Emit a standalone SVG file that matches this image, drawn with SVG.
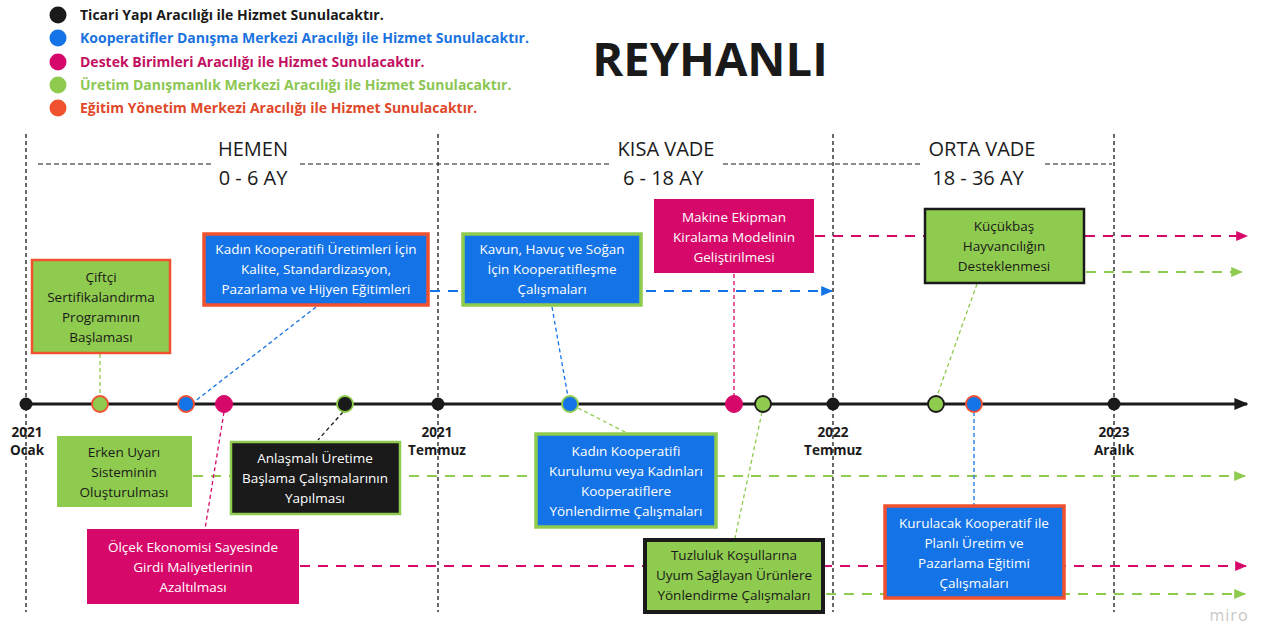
<svg xmlns="http://www.w3.org/2000/svg" width="1268" height="626" viewBox="0 0 1268 626">
<defs>
<style>
text{font-family:"Open Sans","Noto Sans","DejaVu Sans",sans-serif}
.leg{font-size:14px;font-weight:bold}
.hd{font-size:20px;fill:#1a1a1a;text-anchor:middle}
.yr{font-size:13.5px;font-weight:bold;fill:#1a1a1a;text-anchor:middle}
.bt{font-size:13.5px;text-anchor:middle}
.w{fill:#ffffff}
.d{fill:#1a1a1a}
.vl{stroke:#1a1a1a;stroke-width:1.3;stroke-dasharray:4 3;fill:none}
.hl{stroke:#1a1a1a;stroke-width:1.2;stroke-dasharray:5 3;fill:none}
.ar{stroke-width:2;stroke-dasharray:10 8;fill:none}
.dt{stroke-width:1.3;stroke-dasharray:4 3;fill:none}
</style>
<marker id="mB" viewBox="0 0 10 10" refX="9" refY="5" markerWidth="12" markerHeight="10" markerUnits="userSpaceOnUse" orient="auto" preserveAspectRatio="none"><path d="M0,0 L10,5 L0,10 z" fill="#1473e6"/></marker>
<marker id="mP" viewBox="0 0 10 10" refX="9" refY="5" markerWidth="12" markerHeight="10" markerUnits="userSpaceOnUse" orient="auto" preserveAspectRatio="none"><path d="M0,0 L10,5 L0,10 z" fill="#d6086a"/></marker>
<marker id="mG" viewBox="0 0 10 10" refX="9" refY="5" markerWidth="12" markerHeight="10" markerUnits="userSpaceOnUse" orient="auto" preserveAspectRatio="none"><path d="M0,0 L10,5 L0,10 z" fill="#8fcb4f"/></marker>
<marker id="mK" viewBox="0 0 10 10" refX="9" refY="5" markerWidth="14" markerHeight="12" markerUnits="userSpaceOnUse" orient="auto" preserveAspectRatio="none"><path d="M0,0 L10,5 L0,10 z" fill="#1a1a1a"/></marker>
</defs>
<rect width="1268" height="626" fill="#ffffff"/>

<g id="legend">
<circle cx="58" cy="15" r="8.5" fill="#1a1a1a"/>
<text class="leg" x="80" y="20" fill="#1a1a1a">Ticari Yapı Aracılığı ile Hizmet Sunulacaktır.</text>
<circle cx="58" cy="38" r="8.5" fill="#1473e6"/>
<text class="leg" x="80" y="43" fill="#1a73e0">Kooperatifler Danışma Merkezi Aracılığı ile Hizmet Sunulacaktır.</text>
<circle cx="58" cy="62" r="8.5" fill="#d6086a"/>
<text class="leg" x="80" y="67" fill="#c3105f">Destek Birimleri Aracılığı ile Hizmet Sunulacaktır.</text>
<circle cx="58" cy="85" r="8.5" fill="#8fcb4f"/>
<text class="leg" x="80" y="90" fill="#8cc653">Üretim Danışmanlık Merkezi Aracılığı ile Hizmet Sunulacaktır.</text>
<circle cx="58" cy="108" r="8.5" fill="#f0512e"/>
<text class="leg" x="80" y="113" fill="#e0482a">Eğitim Yönetim Merkezi Aracılığı ile Hizmet Sunulacaktır.</text>
</g>

<text id="title" x="710" y="76" font-size="47" font-weight="bold" text-anchor="middle" fill="#1a1a1a">REYHANLI</text>

<g id="periods">
<line class="vl" x1="26" y1="134" x2="26" y2="612"/>
<line class="vl" x1="438" y1="134" x2="438" y2="612"/>
<line class="vl" x1="833" y1="134" x2="833" y2="612"/>
<line class="vl" x1="1114" y1="134" x2="1114" y2="612"/>
<line class="hl" x1="38" y1="164" x2="212" y2="164"/>
<line class="hl" x1="300" y1="164" x2="610" y2="164"/>
<line class="hl" x1="723" y1="164" x2="922" y2="164"/>
<line class="hl" x1="1045" y1="164" x2="1112" y2="164"/>
<text class="hd" x="253" y="156">HEMEN</text>
<text class="hd" x="253" y="185">0 - 6 AY</text>
<text class="hd" x="666" y="156">KISA VADE</text>
<text class="hd" x="663" y="185">6 - 18 AY</text>
<text class="hd" x="982" y="156">ORTA VADE</text>
<text class="hd" x="978" y="185">18 - 36 AY</text>
</g>

<g id="connectors">
<line class="ar" x1="430" y1="291" x2="832" y2="291" stroke="#1473e6" marker-end="url(#mB)"/>
<line class="ar" x1="815" y1="236" x2="1247" y2="236" stroke="#d6086a" marker-end="url(#mP)"/>
<line class="ar" x1="1086" y1="272" x2="1242" y2="272" stroke="#8fcb4f" marker-end="url(#mG)"/>
<line class="ar" x1="193" y1="476" x2="1245" y2="476" stroke="#8fcb4f" marker-end="url(#mG)"/>
<line class="ar" x1="300" y1="566" x2="1246" y2="566" stroke="#d6086a" marker-end="url(#mP)"/>
<line class="ar" x1="826" y1="594" x2="1245" y2="594" stroke="#8fcb4f" marker-end="url(#mG)"/>
<line class="dt" x1="100" y1="354" x2="100" y2="396" stroke="#8fcb4f" stroke-width="1.8" stroke-dasharray="6 4"/>
<line class="dt" x1="316" y1="307" x2="194" y2="402" stroke="#1473e6"/>
<line class="dt" x1="224" y1="412" x2="205" y2="529" stroke="#d6086a"/>
<line class="dt" x1="343" y1="412" x2="318" y2="440" stroke="#1a1a1a" stroke-width="2" stroke-dasharray="6 4"/>
<line class="dt" x1="552" y1="307" x2="568" y2="397" stroke="#1473e6"/>
<line class="dt" x1="578" y1="408" x2="627" y2="433" stroke="#8fcb4f"/>
<line class="dt" x1="734" y1="274" x2="734" y2="396" stroke="#d6086a"/>
<line class="dt" x1="762" y1="412" x2="735" y2="538" stroke="#8fcb4f"/>
<line class="dt" x1="977" y1="284" x2="937" y2="396" stroke="#8fcb4f"/>
<line class="dt" x1="974" y1="412" x2="974" y2="505" stroke="#1473e6"/>
</g>

<g id="timeline">
<line x1="26" y1="404" x2="1247" y2="404" stroke="#1a1a1a" stroke-width="3" marker-end="url(#mK)"/>
<circle cx="26" cy="404" r="6.5" fill="#1a1a1a"/>
<circle cx="438" cy="404" r="6.5" fill="#1a1a1a"/>
<circle cx="833" cy="404" r="6.5" fill="#1a1a1a"/>
<circle cx="1114" cy="404" r="6.5" fill="#1a1a1a"/>
<text class="yr" x="27" y="437">2021</text>
<text class="yr" x="27" y="455">Ocak</text>
<text class="yr" x="437" y="437">2021</text>
<text class="yr" x="437" y="455">Temmuz</text>
<text class="yr" x="833" y="437">2022</text>
<text class="yr" x="833" y="455">Temmuz</text>
<text class="yr" x="1114" y="437">2023</text>
<text class="yr" x="1114" y="455">Aralık</text>
</g>

<g id="events">
<circle cx="100" cy="404" r="8" fill="#8fcb4f" stroke="#f0512e" stroke-width="1.8"/>
<circle cx="186" cy="404" r="8" fill="#1473e6" stroke="#f0512e" stroke-width="1.8"/>
<circle cx="224" cy="404" r="8.5" fill="#d6086a" stroke="#d6086a" stroke-width="1"/>
<circle cx="345" cy="404" r="8" fill="#1a1a1a" stroke="#8fcb4f" stroke-width="1.8"/>
<circle cx="570" cy="404" r="8" fill="#1473e6" stroke="#8fcb4f" stroke-width="1.8"/>
<circle cx="734" cy="404" r="8.5" fill="#d6086a" stroke="#d6086a" stroke-width="1"/>
<circle cx="763" cy="404" r="8" fill="#8fcb4f" stroke="#1a1a1a" stroke-width="1.8"/>
<circle cx="936" cy="404" r="8" fill="#8fcb4f" stroke="#1a1a1a" stroke-width="1.8"/>
<circle cx="974" cy="404" r="8" fill="#1473e6" stroke="#f0512e" stroke-width="1.8"/>
</g>

<g id="n1">
<rect x="32" y="260" width="138" height="93" fill="#8fcb4f" stroke="#f0512e" stroke-width="2.5"/>
<text class="bt d" x="101" y="282">Çiftçi</text>
<text class="bt d" x="101" y="302">Sertifikalandırma</text>
<text class="bt d" x="101" y="322">Programının</text>
<text class="bt d" x="101" y="342">Başlaması</text>
</g>
<g id="n2">
<rect x="204" y="234" width="224" height="71" fill="#1473e6" stroke="#f0512e" stroke-width="3.5"/>
<text class="bt w" x="316" y="254">Kadın Kooperatifi Üretimleri İçin</text>
<text class="bt w" x="316" y="274">Kalite, Standardizasyon,</text>
<text class="bt w" x="316" y="294">Pazarlama ve Hijyen Eğitimleri</text>
</g>
<g id="n3">
<rect x="463" y="234" width="178" height="71" fill="#1473e6" stroke="#8fcb4f" stroke-width="3.5"/>
<text class="bt w" x="552" y="254">Kavun, Havuç ve Soğan</text>
<text class="bt w" x="552" y="274">İçin Kooperatifleşme</text>
<text class="bt w" x="552" y="294">Çalışmaları</text>
</g>
<g id="n4">
<rect x="654" y="199" width="160" height="74" fill="#d6086a"/>
<text class="bt w" x="734" y="222">Makine Ekipman</text>
<text class="bt w" x="734" y="242">Kiralama Modelinin</text>
<text class="bt w" x="734" y="262">Geliştirilmesi</text>
</g>
<g id="n5">
<rect x="925" y="209" width="159" height="74" fill="#8fcb4f" stroke="#1a1a1a" stroke-width="2.5"/>
<text class="bt d" x="1004" y="231" font-size="13">Küçükbaş</text>
<text class="bt d" x="1004" y="251" font-size="13">Hayvancılığın</text>
<text class="bt d" x="1004" y="271" font-size="13">Desteklenmesi</text>
</g>
<g id="n6">
<rect x="57" y="436" width="135" height="71" fill="#8fcb4f"/>
<text class="bt d" x="124" y="457">Erken Uyarı</text>
<text class="bt d" x="124" y="477">Sisteminin</text>
<text class="bt d" x="124" y="497">Oluşturulması</text>
</g>
<g id="n7">
<rect x="231" y="442" width="169" height="72" fill="#1a1a1a" stroke="#8fcb4f" stroke-width="2.5"/>
<text class="bt w" x="315" y="463">Anlaşmalı Üretime</text>
<text class="bt w" x="315" y="483">Başlama Çalışmalarının</text>
<text class="bt w" x="315" y="503">Yapılması</text>
</g>
<g id="n8">
<rect x="87" y="529" width="212" height="75" fill="#d6086a"/>
<text class="bt w" x="193" y="552">Ölçek Ekonomisi Sayesinde</text>
<text class="bt w" x="193" y="572">Girdi Maliyetlerinin</text>
<text class="bt w" x="193" y="592">Azaltılması</text>
</g>
<g id="n9">
<rect x="536" y="434" width="180" height="93" fill="#1473e6" stroke="#8fcb4f" stroke-width="3.5"/>
<text class="bt w" x="626" y="456">Kadın Kooperatifi</text>
<text class="bt w" x="626" y="476">Kurulumu veya Kadınları</text>
<text class="bt w" x="626" y="496">Kooperatiflere</text>
<text class="bt w" x="626" y="516">Yönlendirme Çalışmaları</text>
</g>
<g id="n10">
<rect x="645" y="540" width="178" height="72" fill="#8fcb4f" stroke="#1a1a1a" stroke-width="4"/>
<text class="bt d" x="734" y="560">Tuzluluk Koşullarına</text>
<text class="bt d" x="734" y="580">Uyum Sağlayan Ürünlere</text>
<text class="bt d" x="734" y="600">Yönlendirme Çalışmaları</text>
</g>
<g id="n11">
<rect x="885" y="506" width="179" height="92" fill="#1473e6" stroke="#f0512e" stroke-width="3.5"/>
<text class="bt w" x="974" y="528">Kurulacak Kooperatif ile</text>
<text class="bt w" x="974" y="548">Planlı Üretim ve</text>
<text class="bt w" x="974" y="568">Pazarlama Eğitimi</text>
<text class="bt w" x="974" y="588">Çalışmaları</text>
</g>

<text x="1229" y="621" font-size="16" fill="#c8c8c8" text-anchor="middle" letter-spacing="1">miro</text>
</svg>
